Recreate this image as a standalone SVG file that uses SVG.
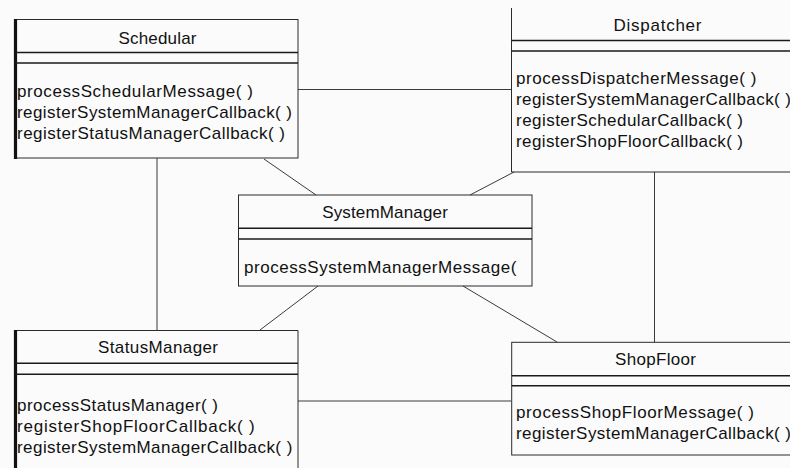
<svg xmlns="http://www.w3.org/2000/svg" width="790" height="468" viewBox="0 0 790 468">
<style>
.box{fill:none;stroke:#2a2a2a;stroke-width:1}
.div{stroke:#1a1a1a;stroke-width:1.4}
.thick{stroke:#111;stroke-width:3.2}
.t{font-family:"Liberation Sans",Arial,sans-serif;font-size:17px;fill:#111}
.c{text-anchor:middle}
.con{stroke:#3a3a3a;stroke-width:1;fill:none}
</style>
<rect x="0" y="0" width="790" height="468" fill="#fbfbfb"/>
<g id="connectors">
<line class="con" x1="298" y1="89.5" x2="511" y2="89.5"/>
<line class="con" x1="264" y1="159" x2="316" y2="195"/>
<line class="con" x1="470" y1="195" x2="514" y2="172"/>
<line class="con" x1="157" y1="158" x2="157" y2="330"/>
<line class="con" x1="654.5" y1="172" x2="654.5" y2="342"/>
<line class="con" x1="318" y1="286" x2="260" y2="330"/>
<line class="con" x1="463" y1="286" x2="557" y2="342"/>
<line class="con" x1="298" y1="401" x2="511" y2="401"/>
</g>
<g id="schedular">
<rect class="box" x="15" y="19.5" width="283" height="138.5"/>
<line class="thick" x1="15.5" y1="19" x2="15.5" y2="159"/>
<line class="div" x1="15" y1="52.5" x2="298" y2="52.5"/>
<line class="div" x1="15" y1="63" x2="298" y2="63"/>
<text class="t c" x="157.5" y="43.5" textLength="78">Schedular</text>
<text class="t" x="17" y="97" textLength="236">processSchedularMessage( )</text>
<text class="t" x="17" y="118" textLength="275">registerSystemManagerCallback( )</text>
<text class="t" x="17" y="139" textLength="268">registerStatusManagerCallback( )</text>
</g>
<g id="dispatcher">
<line class="box" x1="511.5" y1="8" x2="511.5" y2="172"/>
<line class="box" x1="511.5" y1="172" x2="792" y2="172"/>
<line class="div" x1="511.5" y1="40.5" x2="792" y2="40.5"/>
<line class="div" x1="511.5" y1="51" x2="792" y2="51"/>
<text class="t c" x="657.5" y="30.5" textLength="88">Dispatcher</text>
<text class="t" x="516" y="83.5" textLength="240.5">processDispatcherMessage( )</text>
<text class="t" x="516" y="104.5" textLength="275">registerSystemManagerCallback( )</text>
<text class="t" x="516" y="125.5" textLength="227">registerSchedularCallback( )</text>
<text class="t" x="516" y="146.5" textLength="227">registerShopFloorCallback( )</text>
</g>
<g id="systemmanager">
<rect class="box" x="238.5" y="195" width="293.5" height="91"/>
<line class="div" x1="238.5" y1="228.3" x2="532" y2="228.3"/>
<line class="div" x1="238.5" y1="239" x2="532" y2="239"/>
<text class="t c" x="385" y="218.3" textLength="125.7">SystemManager</text>
<text class="t" x="244" y="273" textLength="272.5">processSystemManagerMessage(</text>
</g>
<g id="statusmanager">
<path class="box" d="M15,470 V330.5 H298 V470"/>
<line class="thick" x1="15.5" y1="330" x2="15.5" y2="468"/>
<line class="div" x1="15" y1="363.3" x2="298" y2="363.3"/>
<line class="div" x1="15" y1="374.3" x2="298" y2="374.3"/>
<text class="t c" x="158" y="353.3" textLength="120">StatusManager</text>
<text class="t" x="17" y="410.7" textLength="201">processStatusManager( )</text>
<text class="t" x="17" y="431.7" textLength="237.7">registerShopFloorCallback( )</text>
<text class="t" x="17" y="452.7" textLength="275.3">registerSystemManagerCallback( )</text>
</g>
<g id="shopfloor">
<rect class="box" x="511.7" y="342.3" width="282" height="112.7"/>
<line class="div" x1="511.7" y1="375.7" x2="792" y2="375.7"/>
<line class="div" x1="511.7" y1="385.7" x2="792" y2="385.7"/>
<text class="t c" x="655.5" y="365" textLength="81">ShopFloor</text>
<text class="t" x="516" y="418.3" textLength="238">processShopFloorMessage( )</text>
<text class="t" x="516" y="439.3" textLength="275">registerSystemManagerCallback( )</text>
</g>
</svg>
